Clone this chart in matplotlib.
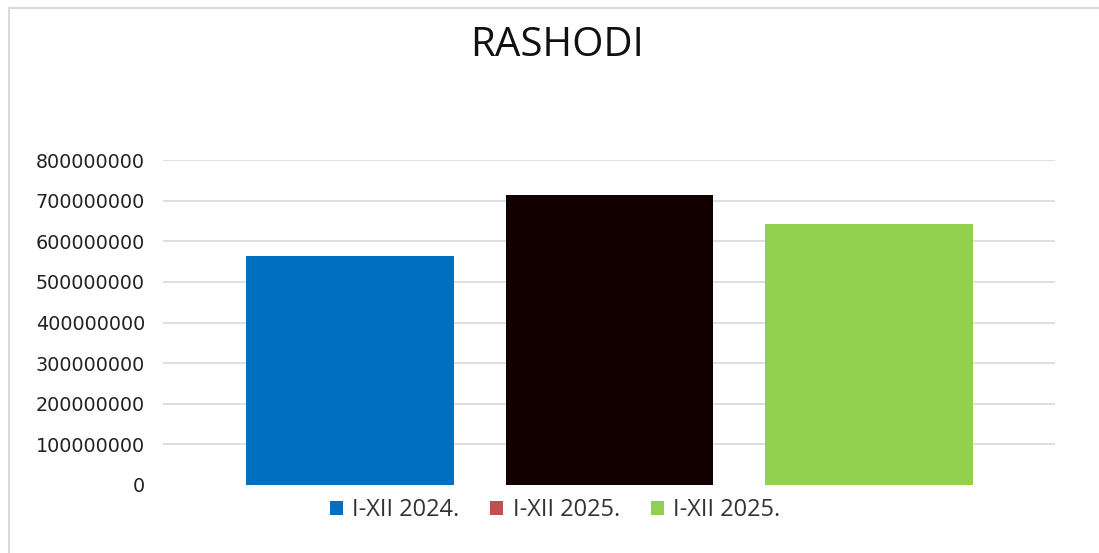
import matplotlib
matplotlib.use('Agg')
import matplotlib.pyplot as plt
from matplotlib.patches import Patch
from matplotlib.lines import Line2D

# podaci
series_labels = ['I-XII 2024.', 'I-XII 2025.', 'I-XII 2025.']
values = [564000000, 713000000, 643000000]
bar_colors = ['#0070c0', '#120000', '#92d050']
legend_colors = ['#0070c0', '#c0504d', '#92d050']
yticks = [0, 100000000, 200000000, 300000000, 400000000,
          500000000, 600000000, 700000000, 800000000]

fig = plt.figure(figsize=(10.99, 5.53), dpi=100)
ax = fig.add_axes([163 / 1099, 1 - 485 / 553, (1055 - 163) / 1099, (485 - 160) / 553])

x = list(range(len(values)))
ax.bar(x, values, width=0.8, color=bar_colors, zorder=3)
ax.set_xlim(-0.722, 2.718)
ax.set_ylim(0, 800000000)
ax.set_yticks(yticks)
ax.set_yticklabels([str(v) for v in yticks], fontsize=13.8, color='#222222',
                   family='DejaVu Sans')
ax.set_xticks([])
ax.tick_params(axis='y', length=0, pad=13)
for v in yticks[1:]:
    ax.axhline(v, color='#d9d9d9', lw=1.2, zorder=1)
for s in ax.spines.values():
    s.set_visible(False)

fig.text(557 / 1099, 1 - 46 / 553, 'RASHODI', ha='center', va='center',
         fontsize=29, family='Open Sans', color='#111111')

handles = [Patch(facecolor=c, edgecolor='none') for c in legend_colors]
fig.legend(handles, series_labels, loc='center', bbox_to_anchor=(555 / 1099, 1 - 510 / 553),
           ncol=3, frameon=False, prop={'family': 'Open Sans', 'size': 17},
           handlelength=0.55, handleheight=0.55, handletextpad=0.4, columnspacing=1.3,
           labelcolor='#333333')

# okvir (gore i lijevo)
fig.add_artist(Line2D([9 / 1099, 9 / 1099], [0, 1 - 8 / 553], transform=fig.transFigure,
                      color='#d9d9d9', lw=1.5))
fig.add_artist(Line2D([9 / 1099, 1], [1 - 8 / 553, 1 - 8 / 553], transform=fig.transFigure,
                      color='#d9d9d9', lw=1.5))

fig.savefig('out.png', dpi=100, facecolor='white')
